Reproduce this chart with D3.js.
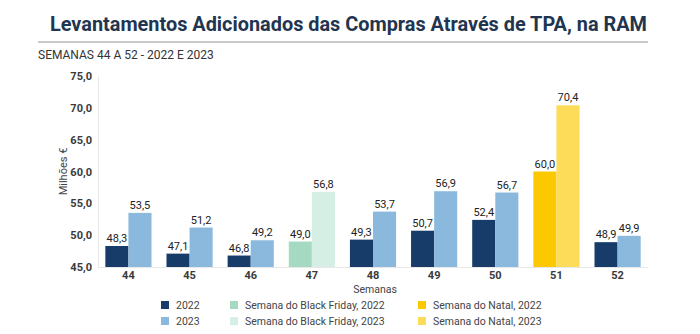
<!DOCTYPE html>
<html>
<head>
<meta charset="utf-8">
<script src="https://cdn.jsdelivr.net/npm/d3@7"></script>
<style>
  body { margin: 0; background: #fff; }
  svg { font-family: Roboto, "Noto Sans", sans-serif; }
</style>
</head>
<body>
<svg id="chart" width="700" height="334"></svg>
<script>
const semanas = ['44', '45', '46', '47', '48', '49', '50', '51', '52']
const valores2022 = [48.3, 47.1, 46.8, 49.0, 49.3, 50.7, 52.4, 60.0, 48.9]
const valores2023 = [53.5, 51.2, 49.2, 56.8, 53.7, 56.9, 56.7, 70.4, 49.9]
const yTicks = [45, 50, 55, 60, 65, 70, 75]
const semanaBlackFriday = '47'
const semanaNatal = '51'
const legenda = [
  ['2022', 'Semana do Black Friday, 2022', 'Semana do Natal, 2022'],
  ['2023', 'Semana do Black Friday, 2023', 'Semana do Natal, 2023']
]

const cores = {
  normal: ['#173c6a', '#8ab9dd'],
  black: ['#a6d9c1', '#d5efe4'],
  natal: ['#fcc800', '#fddc5a']
}

const margin = {top: 76, right: 52, bottom: 67, left: 98}
const width = 700, height = 334

const svg = d3.select('#chart')

// title + rule + subtitle
svg.append('text')
  .attr('x', 50).attr('y', 31)
  .attr('font-size', '21px').attr('font-weight', 700)
  .attr('fill', '#1f3550')
  .attr('textLength', 597).attr('lengthAdjust', 'spacingAndGlyphs')
  .text('Levantamentos Adicionados das Compras Através de TPA, na RAM')

svg.append('line')
  .attr('x1', 38).attr('x2', 648).attr('y1', 42).attr('y2', 42)
  .attr('stroke', '#c9c9c9').attr('stroke-width', 2)

svg.append('text')
  .attr('x', 38).attr('y', 59)
  .attr('font-size', '12px').attr('fill', '#333')
  .text('SEMANAS 44 A 52 - 2022 E 2023')

const x = d3.scaleBand()
  .domain(semanas)
  .range([margin.left, width - margin.right])
  .paddingInner(0.245)
  .paddingOuter(0.12)

const x1 = d3.scaleBand()
  .domain([0, 1])
  .range([0, x.bandwidth()])

const y = d3.scaleLinear()
  .domain([45, 75])
  .range([height - margin.bottom, margin.top])

// axes
const yAxis = svg.append('g')
  .attr('transform', 'translate(' + margin.left + ',0)')
  .call(d3.axisLeft(y).tickValues(yTicks).tickSize(0).tickPadding(6)
    .tickFormat(d => d3.format('.1f')(d).replace('.', ',')))
yAxis.select('.domain').attr('stroke', '#e8e8e8')
yAxis.selectAll('text').attr('font-size', '11px').attr('font-weight', 700)
  .attr('fill', '#3a3a3a').attr('font-family', 'Roboto, sans-serif')

const xAxis = svg.append('g')
  .attr('transform', 'translate(0,' + (height - margin.bottom) + ')')
  .call(d3.axisBottom(x).tickSize(0).tickPadding(4).tickSizeOuter(0))
xAxis.select('.domain').attr('stroke', '#e8e8e8')
xAxis.selectAll('text').attr('font-size', '11px').attr('font-weight', 700)
  .attr('fill', '#3a3a3a').attr('font-family', 'Roboto, sans-serif')

svg.append('text')
  .attr('x', (margin.left + width - margin.right) / 2 + 2).attr('y', 293)
  .attr('text-anchor', 'middle').attr('font-size', '10.5px').attr('fill', '#444')
  .text('Semanas')

svg.append('text')
  .attr('transform', 'translate(67,' + ((margin.top + height - margin.bottom) / 2) + ') rotate(-90)')
  .attr('text-anchor', 'middle').attr('font-size', '11px').attr('fill', '#444')
  .text('Milhões €')

// bars
const dados = []
semanas.forEach((s, i) => {
  const tipo = s === semanaBlackFriday ? 'black' : (s === semanaNatal ? 'natal' : 'normal')
  dados.push({semana: s, serie: 0, valor: valores2022[i], cor: cores[tipo][0]})
  dados.push({semana: s, serie: 1, valor: valores2023[i], cor: cores[tipo][1]})
})

svg.append('g')
  .selectAll('rect')
  .data(dados)
  .join('rect')
    .attr('x', d => x(d.semana) + x1(d.serie))
    .attr('y', d => y(d.valor))
    .attr('width', x1.bandwidth())
    .attr('height', d => y(45) - y(d.valor))
    .attr('fill', d => d.cor)

svg.append('g')
  .selectAll('text')
  .data(dados)
  .join('text')
    .attr('x', d => x(d.semana) + x1(d.serie) + x1.bandwidth() / 2)
    .attr('y', d => y(d.valor) - 4)
    .attr('text-anchor', 'middle')
    .attr('font-size', '11px')
    .attr('fill', '#222')
    .text(d => d3.format('.1f')(d.valor).replace('.', ','))

// legend
const legX = [161, 230, 418]
const legY = [309, 325]
const legCores = [
  [cores.normal[0], cores.black[0], cores.natal[0]],
  [cores.normal[1], cores.black[1], cores.natal[1]]
]
legenda.forEach((linha, r) => {
  linha.forEach((txt, c) => {
    svg.append('rect')
      .attr('x', legX[c]).attr('y', legY[r] - 8)
      .attr('width', 8).attr('height', 8)
      .attr('fill', legCores[r][c])
    svg.append('text')
      .attr('x', legX[c] + 15).attr('y', legY[r])
      .attr('font-size', '10.5px').attr('fill', '#444')
      .text(txt)
  })
})
</script>
</body>
</html>
